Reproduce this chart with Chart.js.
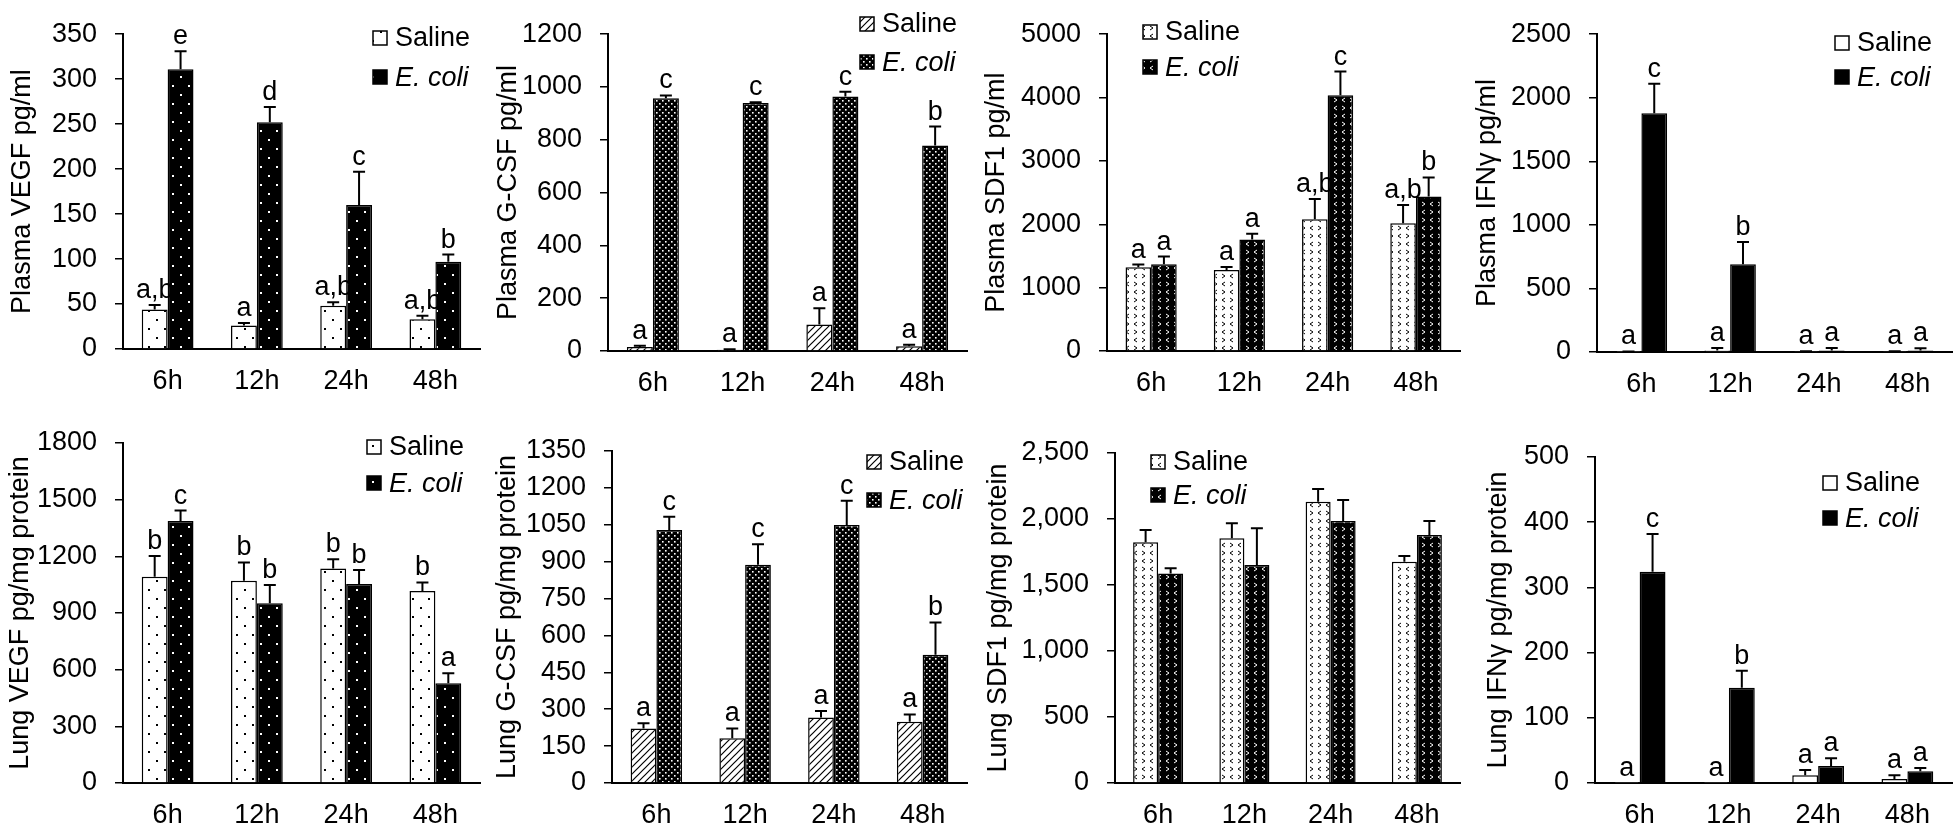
<!DOCTYPE html>
<html>
<head>
<meta charset="utf-8">
<script src="https://cdn.jsdelivr.net/npm/chart.js@4.4.0/dist/chart.umd.min.js"></script>
<style>
html, body { margin: 0; padding: 0; background: #fff; }
#wrap { position: relative; width: 1955px; height: 828px; overflow: hidden; }
#wrap canvas { position: absolute; }
</style>
</head>
<body>
<div id="wrap"></div>
<script>
var timepoints = ['6h', '12h', '24h', '48h'];

// Plasma VEGF
var plasmaVegfSaline = [44, 26, 48, 33];
var plasmaVegfSalineErr = [5, 3, 4, 4];
var plasmaVegfEcoli = [311, 252, 160, 97];
var plasmaVegfEcoliErr = [20, 17, 37, 8];
var plasmaVegfSalineLetters = ['a,b', 'a', 'a,b', 'a,b'];
var plasmaVegfEcoliLetters = ['e', 'd', 'c', 'b'];

// Plasma G-CSF
var plasmaGcsfSaline = [15, 5, 100, 18];
var plasmaGcsfSalineErr = [5, 2, 62, 6];
var plasmaGcsfEcoli = [957, 939, 964, 778];
var plasmaGcsfEcoliErr = [11, 3, 18, 72];
var plasmaGcsfSalineLetters = ['a', 'a', 'a', 'a'];
var plasmaGcsfEcoliLetters = ['c', 'c', 'c', 'b'];

// Plasma SDF1
var plasmaSdfSaline = [1320, 1280, 2080, 2015];
var plasmaSdfSalineErr = [45, 45, 320, 290];
var plasmaSdfEcoli = [1370, 1760, 4035, 2440];
var plasmaSdfEcoliErr = [120, 90, 375, 300];
var plasmaSdfSalineLetters = ['a', 'a', 'a,b', 'a,b'];
var plasmaSdfEcoliLetters = ['a', 'a', 'c', 'b'];

// Plasma IFNy
var plasmaIfnSaline = [2, 12, 3, 3];
var plasmaIfnSalineErr = [2, 20, 3, 3];
var plasmaIfnEcoli = [1878, 690, 12, 12];
var plasmaIfnEcoliErr = [232, 175, 20, 18];
var plasmaIfnSalineLetters = ['a', 'a', 'a', 'a'];
var plasmaIfnEcoliLetters = ['c', 'b', 'a', 'a'];

// Lung VEGF
var lungVegfSaline = [1092, 1071, 1136, 1016];
var lungVegfSalineErr = [110, 97, 48, 46];
var lungVegfEcoli = [1387, 951, 1053, 528];
var lungVegfEcoliErr = [55, 97, 75, 53];
var lungVegfSalineLetters = ['b', 'b', 'b', 'b'];
var lungVegfEcoliLetters = ['c', 'b', 'b', 'a'];

// Lung G-CSF
var lungGcsfSaline = [222, 182, 266, 249];
var lungGcsfSalineErr = [21, 40, 27, 30];
var lungGcsfEcoli = [1029, 887, 1049, 521];
var lungGcsfEcoliErr = [54, 84, 99, 132];
var lungGcsfSalineLetters = ['a', 'a', 'a', 'a'];
var lungGcsfEcoliLetters = ['c', 'c', 'c', 'b'];

// Lung SDF1
var lungSdfSaline = [1823, 1854, 2131, 1677];
var lungSdfSalineErr = [93, 113, 96, 43];
var lungSdfEcoli = [1588, 1652, 1985, 1879];
var lungSdfEcoliErr = [38, 277, 159, 106];

// Lung IFNy
var lungIfnSaline = [0.5, 0.5, 12, 6];
var lungIfnSalineErr = [0, 0, 8, 6];
var lungIfnEcoli = [324, 146, 26, 18];
var lungIfnEcoliErr = [58, 26, 12, 5];
var lungIfnSalineLetters = ['a', 'a', 'a', 'a'];
var lungIfnEcoliLetters = ['c', 'b', 'a', 'a'];

Chart.defaults.font.family = '"Liberation Sans", Arial, sans-serif';
Chart.defaults.font.size = 27;
Chart.defaults.color = '#000';

// pattern tiles
function tile(w, h, draw) {
    var c = document.createElement('canvas');
    c.width = w; c.height = h;
    var g = c.getContext('2d');
    draw(g);
    return g.createPattern(c, 'repeat');
}
function dots(bg, fg, w, h, pts, r) {
    return tile(w, h, function (g) {
        g.fillStyle = bg; g.fillRect(0, 0, w, h);
        g.fillStyle = fg;
        pts.forEach(function (p) { g.fillRect(p[0], p[1], r, r); });
    });
}
function chevrons(bg, fg) {
    return tile(16, 16, function (g) {
        g.fillStyle = bg; g.fillRect(0, 0, 16, 16);
        g.strokeStyle = fg; g.lineWidth = 1;
        g.beginPath();
        // ">" then "<" in the first row, swapped in the second
        g.moveTo(2, 2); g.lineTo(5, 4); g.lineTo(2, 6);
        g.moveTo(13, 2); g.lineTo(10, 4); g.lineTo(13, 6);
        g.moveTo(5, 10); g.lineTo(2, 12); g.lineTo(5, 14);
        g.moveTo(10, 10); g.lineTo(13, 12); g.lineTo(10, 14);
        g.stroke();
    });
}
var fills = {
    dots: [
        dots('#fff', '#000', 16, 18, [[4, 4], [12, 13]], 2),
        dots('#000', '#fff', 16, 18, [[4, 4], [12, 13]], 2)
    ],
    hatch: [
        tile(7, 7, function (g) {
            g.fillStyle = '#fff'; g.fillRect(0, 0, 7, 7);
            g.strokeStyle = '#000'; g.lineWidth = 1.2;
            g.beginPath();
            g.moveTo(-1, 8); g.lineTo(8, -1);
            g.moveTo(-1, 1); g.lineTo(1, -1);
            g.moveTo(6, 8); g.lineTo(8, 6);
            g.stroke();
        }),
        dots('#000', '#fff', 6, 6, [[1, 1], [4, 4]], 1.6)
    ],
    chevron: [chevrons('#fff', '#000'), chevrons('#000', '#fff')],
    solid: ['#fff', '#000']
};

var errorBarsAndLetters = {
    id: 'errorBarsAndLetters',
    afterDatasetsDraw: function (chart) {
        var ctx = chart.ctx, y = chart.scales.y;
        ctx.save();
        ctx.strokeStyle = '#000';
        ctx.fillStyle = '#000';
        ctx.lineWidth = 2;
        ctx.font = '27px "Liberation Sans", Arial, sans-serif';
        ctx.textAlign = 'center';
        ctx.textBaseline = 'alphabetic';
        chart.data.datasets.forEach(function (ds, di) {
            var meta = chart.getDatasetMeta(di);
            meta.data.forEach(function (bar, i) {
                var top = y.getPixelForValue(ds.data[i] + ds.errors[i]);
                if (ds.errors[i] > 0) {
                    ctx.beginPath();
                    ctx.moveTo(bar.x, bar.y);
                    ctx.lineTo(bar.x, top);
                    ctx.moveTo(bar.x - 6, top);
                    ctx.lineTo(bar.x + 6, top);
                    ctx.stroke();
                }
                if (ds.letters && ds.letters[i]) {
                    ctx.fillText(ds.letters[i], bar.x, Math.min(top, bar.y) - 7);
                }
            });
        });
        ctx.restore();
    }
};

var boxLegend = {
    id: 'boxLegend',
    afterDraw: function (chart, args, opts) {
        var ctx = chart.ctx;
        ctx.save();
        ctx.textBaseline = 'middle';
        ctx.textAlign = 'left';
        chart.data.datasets.forEach(function (ds, i) {
            var cy = opts.ys[i];
            ctx.fillStyle = ds.backgroundColor;
            ctx.fillRect(opts.x, cy - 7, 14, 14);
            ctx.strokeStyle = '#000';
            ctx.lineWidth = 1.5;
            ctx.strokeRect(opts.x, cy - 7, 14, 14);
            ctx.fillStyle = '#000';
            ctx.font = (i === 1 ? 'italic ' : '') + '27px "Liberation Sans", Arial, sans-serif';
            ctx.fillText(ds.label, opts.x + 22, cy + 1);
        });
        ctx.restore();
    }
};

var panels = [
    { left: 0, top: 0, w: 490, h: 400, axisX: 123, plotTop: 18, zeroY: 349, plotRight: 480, titlePad: 6,
      title: 'Plasma VEGF pg/ml', max: 350, step: 50, fill: 'dots', legendX: 373, legendYs: [38, 77],
      saline: plasmaVegfSaline, salineErr: plasmaVegfSalineErr, ecoli: plasmaVegfEcoli, ecoliErr: plasmaVegfEcoliErr,
      salineLetters: plasmaVegfSalineLetters, ecoliLetters: plasmaVegfEcoliLetters },
    { left: 490, top: 0, w: 490, h: 400, axisX: 118, plotTop: 15, zeroY: 351, plotRight: 477, titlePad: 2,
      title: 'Plasma G-CSF pg/ml', max: 1200, step: 200, fill: 'hatch', legendX: 370, legendYs: [24, 62],
      saline: plasmaGcsfSaline, salineErr: plasmaGcsfSalineErr, ecoli: plasmaGcsfEcoli, ecoliErr: plasmaGcsfEcoliErr,
      salineLetters: plasmaGcsfSalineLetters, ecoliLetters: plasmaGcsfEcoliLetters },
    { left: 980, top: 0, w: 485, h: 400, axisX: 127, plotTop: 19, zeroY: 351, plotRight: 480, titlePad: 0,
      title: 'Plasma SDF1 pg/ml', max: 5000, step: 500, fill: 'chevron', legendX: 163, legendYs: [32, 67],
      saline: plasmaSdfSaline, salineErr: plasmaSdfSalineErr, ecoli: plasmaSdfEcoli, ecoliErr: plasmaSdfEcoliErr,
      salineLetters: plasmaSdfSalineLetters, ecoliLetters: plasmaSdfEcoliLetters },
    { left: 1465, top: 0, w: 490, h: 400, axisX: 132, plotTop: 26, zeroY: 352, plotRight: 487, titlePad: 6,
      title: 'Plasma IFNγ pg/ml', max: 2500, step: 500, fill: 'solid', legendX: 370, legendYs: [43, 77],
      saline: plasmaIfnSaline, salineErr: plasmaIfnSalineErr, ecoli: plasmaIfnEcoli, ecoliErr: plasmaIfnEcoliErr,
      salineLetters: plasmaIfnSalineLetters, ecoliLetters: plasmaIfnEcoliLetters },
    { left: 0, top: 405, w: 490, h: 423, axisX: 123, plotTop: 38, zeroY: 378, plotRight: 480, titlePad: 4,
      title: 'Lung VEGF pg/mg protein', max: 1800, step: 300, fill: 'dots', legendX: 367, legendYs: [42, 78],
      saline: lungVegfSaline, salineErr: lungVegfSalineErr, ecoli: lungVegfEcoli, ecoliErr: lungVegfEcoliErr,
      salineLetters: lungVegfSalineLetters, ecoliLetters: lungVegfEcoliLetters },
    { left: 490, top: 405, w: 490, h: 423, axisX: 122, plotTop: 46, zeroY: 378, plotRight: 477, titlePad: 1,
      title: 'Lung G-CSF pg/mg protein', max: 1350, step: 150, fill: 'hatch', legendX: 377, legendYs: [57, 95],
      saline: lungGcsfSaline, salineErr: lungGcsfSalineErr, ecoli: lungGcsfEcoli, ecoliErr: lungGcsfEcoliErr,
      salineLetters: lungGcsfSalineLetters, ecoliLetters: lungGcsfEcoliLetters },
    { left: 980, top: 405, w: 485, h: 423, axisX: 135, plotTop: 48, zeroY: 378, plotRight: 480, titlePad: 2,
      title: 'Lung SDF1 pg/mg protein', max: 2500, step: 500, fill: 'chevron', legendX: 171, legendYs: [57, 90],
      saline: lungSdfSaline, salineErr: lungSdfSalineErr, ecoli: lungSdfEcoli, ecoliErr: lungSdfEcoliErr,
      salineLetters: null, ecoliLetters: null, commas: true },
    { left: 1465, top: 405, w: 490, h: 423, axisX: 130, plotTop: 52, zeroY: 378, plotRight: 487, titlePad: 17,
      title: 'Lung IFNγ pg/mg protein', max: 500, step: 100, fill: 'solid', legendX: 358, legendYs: [78, 113],
      saline: lungIfnSaline, salineErr: lungIfnSalineErr, ecoli: lungIfnEcoli, ecoliErr: lungIfnEcoliErr,
      salineLetters: lungIfnSalineLetters, ecoliLetters: lungIfnEcoliLetters }
];

var wrap = document.getElementById('wrap');
panels.forEach(function (p) {
    var canvas = document.createElement('canvas');
    canvas.width = p.w;
    canvas.height = p.h;
    canvas.style.left = p.left + 'px';
    canvas.style.top = p.top + 'px';
    wrap.appendChild(canvas);

    new Chart(canvas.getContext('2d'), {
        type: 'bar',
        data: {
            labels: timepoints,
            datasets: [{
                label: 'Saline',
                data: p.saline,
                errors: p.salineErr,
                letters: p.salineLetters,
                backgroundColor: fills[p.fill][0],
                borderColor: '#000',
                borderWidth: 1.5
            }, {
                label: 'E. coli',
                data: p.ecoli,
                errors: p.ecoliErr,
                letters: p.ecoliLetters,
                backgroundColor: fills[p.fill][1],
                borderColor: '#000',
                borderWidth: 1.5
            }]
        },
        options: {
            responsive: false,
            animation: false,
            devicePixelRatio: 1,
            categoryPercentage: 0.58,
            barPercentage: 1,
            layout: { padding: { left: 0, top: p.plotTop, right: p.w - p.plotRight, bottom: 0 } },
            scales: {
                x: {
                    grid: { display: false, drawTicks: false },
                    border: { display: true, color: '#000', width: 2 },
                    ticks: { padding: 16, font: { size: 27 } },
                    afterFit: function (s) { s.height = p.h - p.zeroY; }
                },
                y: {
                    min: 0,
                    max: p.max,
                    grid: { display: true, drawOnChartArea: false, drawTicks: true, tickLength: 8, color: '#000', lineWidth: 1.5 },
                    border: { display: true, color: '#000', width: 2 },
                    ticks: {
                        stepSize: p.step,
                        padding: 18,
                        font: { size: 27 },
                        callback: function (v) { return p.commas ? v.toLocaleString('en-US') : String(v); }
                    },
                    title: { display: true, text: p.title, font: { size: 27 }, padding: { top: p.titlePad, bottom: 0 } },
                    afterFit: function (s) { s.width = p.axisX; }
                }
            },
            plugins: {
                legend: { display: false },
                tooltip: { enabled: false },
                boxLegend: { x: p.legendX, ys: p.legendYs }
            }
        },
        plugins: [errorBarsAndLetters, boxLegend]
    });
});
</script>
</body>
</html>
